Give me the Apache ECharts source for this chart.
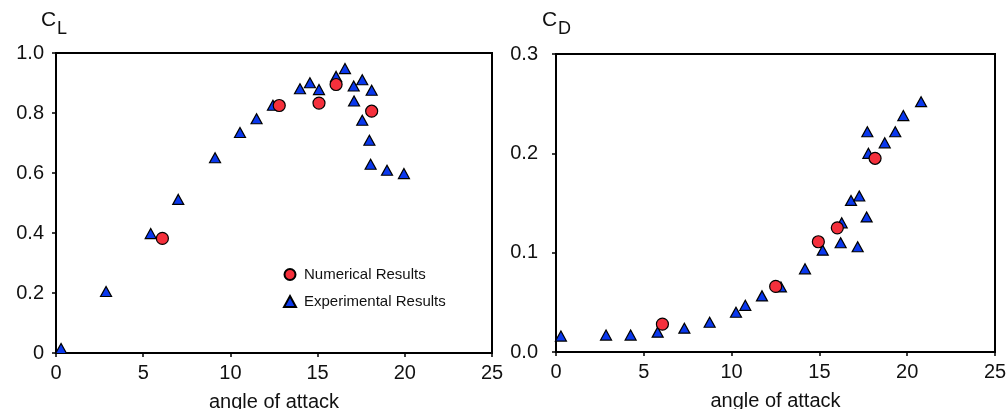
<!DOCTYPE html>
<html>
<head>
<meta charset="utf-8">
<script src="https://cdn.jsdelivr.net/npm/echarts@6/dist/echarts.min.js"></script>
<style>
html,body{margin:0;padding:0;background:#fff;}
#chart{width:1008px;height:409px;}
</style>
</head>
<body>
<div id="chart"></div>
<script>
// ---- data ----
var xTickLabels = ['0', '5', '10', '15', '20', '25'];
var yTickLabelsL = ['0', '0.2', '0.4', '0.6', '0.8', '1.0'];
var yTickLabelsD = ['0.0', '0.1', '0.2', '0.3'];

var numAlphaL = [6.10, 12.80, 15.08, 16.06, 18.10];
var numCL     = [0.382, 0.825, 0.833, 0.895, 0.806];
var expAlphaL = [0.29, 2.87, 5.43, 7.01, 9.12, 10.55, 11.50, 12.44, 13.99, 14.56, 15.08, 16.06, 16.57, 17.07, 17.09, 17.56, 17.56, 18.10, 17.97, 18.04, 18.98, 19.95];
var expCL     = [0.015, 0.205, 0.398, 0.512, 0.651, 0.735, 0.781, 0.826, 0.881, 0.901, 0.878, 0.922, 0.948, 0.890, 0.840, 0.911, 0.776, 0.876, 0.709, 0.629, 0.609, 0.598];

var numAlphaD = [6.06, 12.51, 14.94, 16.02, 18.17];
var numCD     = [0.028, 0.066, 0.111, 0.125, 0.195];
var expAlphaD = [0.28, 2.85, 4.25, 5.79, 7.31, 8.75, 10.25, 10.78, 11.73, 12.81, 14.18, 15.19, 16.21, 16.27, 16.80, 17.27, 17.69, 17.18, 17.79, 17.73, 18.72, 19.32, 19.78, 20.79];
var expCD     = [0.016, 0.017, 0.017, 0.020, 0.024, 0.030, 0.040, 0.047, 0.0565, 0.0655, 0.0837, 0.1025, 0.110, 0.130, 0.1526, 0.157, 0.136, 0.106, 0.200, 0.2217, 0.2106, 0.2217, 0.238, 0.252];

var seriesNames = ['Numerical Results', 'Experimental Results'];
var xName = 'angle of attack';

function zip(a, b) { return a.map(function (v, i) { return [v, b[i]]; }); }

var FONT = '"Liberation Sans", Arial, Helvetica, sans-serif';
var RED = '#f5303c', BLUE = '#0a38ee';

function xAxis(gi) {
  return {
    type: 'value', gridIndex: gi, min: 0, max: 25, interval: 5,
    name: xName, nameLocation: 'middle', nameGap: 39,
    nameTextStyle: { fontFamily: FONT, fontSize: 20, color: '#111' },
    axisLine: { show: true, lineStyle: { color: '#000', width: 2 } },
    axisTick: { show: true, length: 4, lineStyle: { color: '#000', width: 1.5 } },
    axisLabel: { margin: 10, fontFamily: FONT, fontSize: 20, color: '#111',
      formatter: function (v) { return xTickLabels[Math.round(v / 5)]; } },
    splitLine: { show: false }
  };
}

var option = {
  animation: false,
  backgroundColor: '#fff',
  grid: [
    { left: 56, top: 53, width: 436, height: 300, show: true, borderColor: '#000', borderWidth: 2,
      containLabel: false, outerBoundsMode: 'none' },
    { left: 556, top: 54, width: 439, height: 298, show: true, borderColor: '#000', borderWidth: 2,
      containLabel: false, outerBoundsMode: 'none' }
  ],
  xAxis: [xAxis(0), xAxis(1)],
  yAxis: [
    { type: 'value', gridIndex: 0, min: 0, max: 1, interval: 0.2,
      axisLine: { show: true, lineStyle: { color: '#000', width: 2 } },
      axisTick: { show: true, length: 4, lineStyle: { color: '#000', width: 1.5 } },
      axisLabel: { margin: 12, fontFamily: FONT, fontSize: 20, color: '#111',
        formatter: function (v) { return yTickLabelsL[Math.round(v / 0.2)]; } },
      splitLine: { show: false } },
    { type: 'value', gridIndex: 1, min: 0, max: 0.3, interval: 0.1,
      axisLine: { show: true, lineStyle: { color: '#000', width: 2 } },
      axisTick: { show: true, length: 4, lineStyle: { color: '#000', width: 1.5 } },
      axisLabel: { margin: 18, fontFamily: FONT, fontSize: 20, color: '#111',
        formatter: function (v) { return yTickLabelsD[Math.round(v / 0.1)]; } },
      splitLine: { show: false } }
  ],
  legend: {
    data: [seriesNames[0], seriesNames[1]],
    orient: 'vertical', left: 278, top: 262, itemGap: 12,
    itemWidth: 12, itemHeight: 11,
    textStyle: { fontFamily: FONT, fontSize: 15, color: '#111', padding: [0, 0, 0, 3] }
  },
  graphic: [
    { type: 'text', left: 41, top: 10, style: { text: 'C', font: '21px ' + FONT, fill: '#111' } },
    { type: 'text', left: 57, top: 20, style: { text: 'L', font: '18px ' + FONT, fill: '#111' } },
    { type: 'text', left: 542, top: 10, style: { text: 'C', font: '21px ' + FONT, fill: '#111' } },
    { type: 'text', left: 558, top: 20, style: { text: 'D', font: '18px ' + FONT, fill: '#111' } }
  ],
  series: [
    { name: seriesNames[1], type: 'scatter', xAxisIndex: 0, yAxisIndex: 0,
      symbol: 'triangle', symbolSize: [11, 10],
      itemStyle: { color: BLUE, borderColor: '#000', borderWidth: 1.2, opacity: 1 },
      data: zip(expAlphaL, expCL) },
    { name: seriesNames[0], type: 'scatter', xAxisIndex: 0, yAxisIndex: 0,
      symbol: 'circle', symbolSize: 12,
      itemStyle: { color: RED, borderColor: '#000', borderWidth: 1.2, opacity: 1 },
      data: zip(numAlphaL, numCL) },
    { name: seriesNames[1], type: 'scatter', xAxisIndex: 1, yAxisIndex: 1,
      symbol: 'triangle', symbolSize: [11, 10],
      itemStyle: { color: BLUE, borderColor: '#000', borderWidth: 1.2, opacity: 1 },
      data: zip(expAlphaD, expCD) },
    { name: seriesNames[0], type: 'scatter', xAxisIndex: 1, yAxisIndex: 1,
      symbol: 'circle', symbolSize: 12,
      itemStyle: { color: RED, borderColor: '#000', borderWidth: 1.2, opacity: 1 },
      data: zip(numAlphaD, numCD) }
  ]
};

var chart = echarts.init(document.getElementById('chart'), null, { renderer: 'canvas' });
chart.setOption(option);
</script>
</body>
</html>
